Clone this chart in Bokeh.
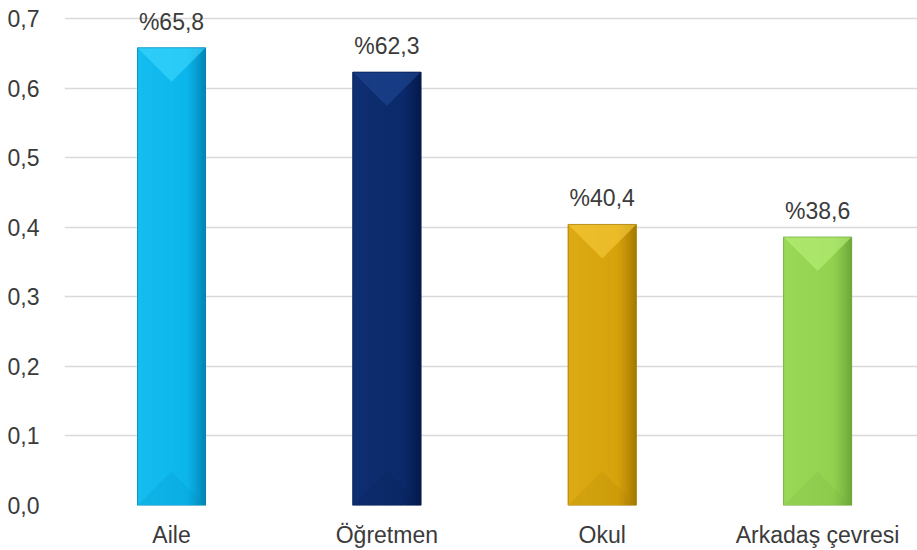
import numpy as np
from bokeh.plotting import figure
from bokeh.models import ColumnDataSource, FixedTicker, CustomJSTickFormatter, Range1d
from bokeh.core.properties import value
from bokeh.embed import file_html
from bokeh.resources import INLINE

# Survey answers: share of respondents per source
categories = ["Aile", "Öğretmen", "Okul", "Arkadaş çevresi"]
shares = [0.658, 0.623, 0.404, 0.386]

# Fill colours per bar: body, highlight facet, shaded edge
base_colors = ["#0CB6EC", "#0B2A6B", "#D6A30C", "#93D250"]
light_colors = ["#3FD8FF", "#1F4794", "#F8CB3C", "#B9F17C"]
dark_colors = ["#0385B6", "#051A4C", "#A47900", "#6DA83A"]

y_ticks = [0.0, 0.1, 0.2, 0.3, 0.4, 0.5, 0.6, 0.7]

FONT = "Liberation Sans"
TEXT = "#3b3b3b"

W, H = 917, 550
LEFT, RIGHT, TOP, BOTTOM = 64, 0, 2, 44
X0, X1 = -0.497, 3.464
Y0, Y1 = 0.0, 0.723
BAR_W = 0.316


def hex_rgb(h):
    h = h.lstrip("#")
    return np.array([int(h[i:i + 2], 16) for i in (0, 2, 4)], dtype=float)


def mix(a, b, t):
    c = hex_rgb(a) * (1 - t) + hex_rgb(b) * t
    return "#%02x%02x%02x" % tuple(int(round(v)) for v in c)


p = figure(width=W, height=H, output_backend="svg", toolbar_location=None,
           x_range=Range1d(X0, X1), y_range=Range1d(Y0, Y1),
           min_border_left=LEFT, min_border_right=RIGHT,
           min_border_top=TOP, min_border_bottom=BOTTOM)
p.outline_line_color = None
p.background_fill_color = "white"
p.border_fill_color = "white"

# grid
p.xgrid.grid_line_color = None
p.ygrid.grid_line_color = "#d9d9d9"
p.ygrid.grid_line_width = 1.6
p.ygrid.ticker = FixedTicker(ticks=y_ticks)

# y axis
p.yaxis.ticker = FixedTicker(ticks=y_ticks)
p.yaxis.formatter = CustomJSTickFormatter(code="return tick.toFixed(1).replace('.', ',');")
p.yaxis.axis_line_color = None
p.yaxis.major_tick_line_color = None
p.yaxis.minor_tick_line_color = None
p.yaxis.major_label_standoff = 19
p.yaxis.major_label_text_font = FONT
p.yaxis.major_label_text_font_size = "23px"
p.yaxis.major_label_text_color = TEXT

# x axis
xs = list(range(len(categories)))
p.xaxis.ticker = FixedTicker(ticks=xs)
p.xaxis.major_label_overrides = {i: c for i, c in enumerate(categories)}
p.xaxis.axis_line_color = None
p.xaxis.major_tick_line_color = None
p.xaxis.minor_tick_line_color = None
p.xaxis.major_label_standoff = 10
p.xaxis.major_label_text_font = FONT
p.xaxis.major_label_text_font_size = "23px"
p.xaxis.major_label_text_color = TEXT

# pixel scale for square bevel facets
frame_w = W - LEFT - RIGHT
frame_h = H - TOP - BOTTOM
px_x = frame_w / (X1 - X0)
px_y = frame_h / (Y1 - Y0)
facet_depth = (BAR_W / 2) * px_x / px_y

# bar bodies drawn as thin vertical strips for a horizontal shading
N = 30
strip_x, strip_top, strip_col = [], [], []
for x, top, b, l, d in zip(xs, shares, base_colors, light_colors, dark_colors):
    for i in range(N):
        t = (i + 0.5) / N
        if t < 0.72:
            col = mix(b, l, 0.18 * (1 - t / 0.72))
        else:
            col = mix(b, d, ((t - 0.72) / 0.28) ** 1.2)
        strip_x.append(x - BAR_W / 2 + t * BAR_W)
        strip_top.append(top)
        strip_col.append(col)
p.vbar(x=strip_x, top=strip_top, bottom=0, width=BAR_W / N * 1.4,
       fill_color=strip_col, line_color=None)

# top (light) and bottom (shaded) bevel facets
top_xs, top_ys, bot_xs, bot_ys = [], [], [], []
for x, top in zip(xs, shares):
    top_xs.append([x - BAR_W / 2, x + BAR_W / 2, x])
    top_ys.append([top, top, top - facet_depth])
    bot_xs.append([x - BAR_W / 2, x + BAR_W / 2, x])
    bot_ys.append([0, 0, facet_depth])
p.patches(xs=top_xs, ys=top_ys, fill_color=light_colors, fill_alpha=0.6, line_color=None)
p.patches(xs=bot_xs, ys=bot_ys, fill_color=dark_colors, fill_alpha=0.15, line_color=None)

# thin edge around each bar
p.vbar(x=xs, top=shares, bottom=0, width=BAR_W, fill_color=None,
       line_color=dark_colors, line_width=1, line_alpha=0.7)

# value labels
labels = ["%" + f"{v * 100:.1f}".replace(".", ",") for v in shares]
src = ColumnDataSource(dict(x=xs, y=shares, label=labels))
p.text(x="x", y="y", text="label", source=src, text_align="center",
       text_baseline="alphabetic", y_offset=-26,
       text_font=value(FONT), text_font_size="23px", text_color=TEXT)

open("out.html", "w").write(file_html(p, INLINE))
